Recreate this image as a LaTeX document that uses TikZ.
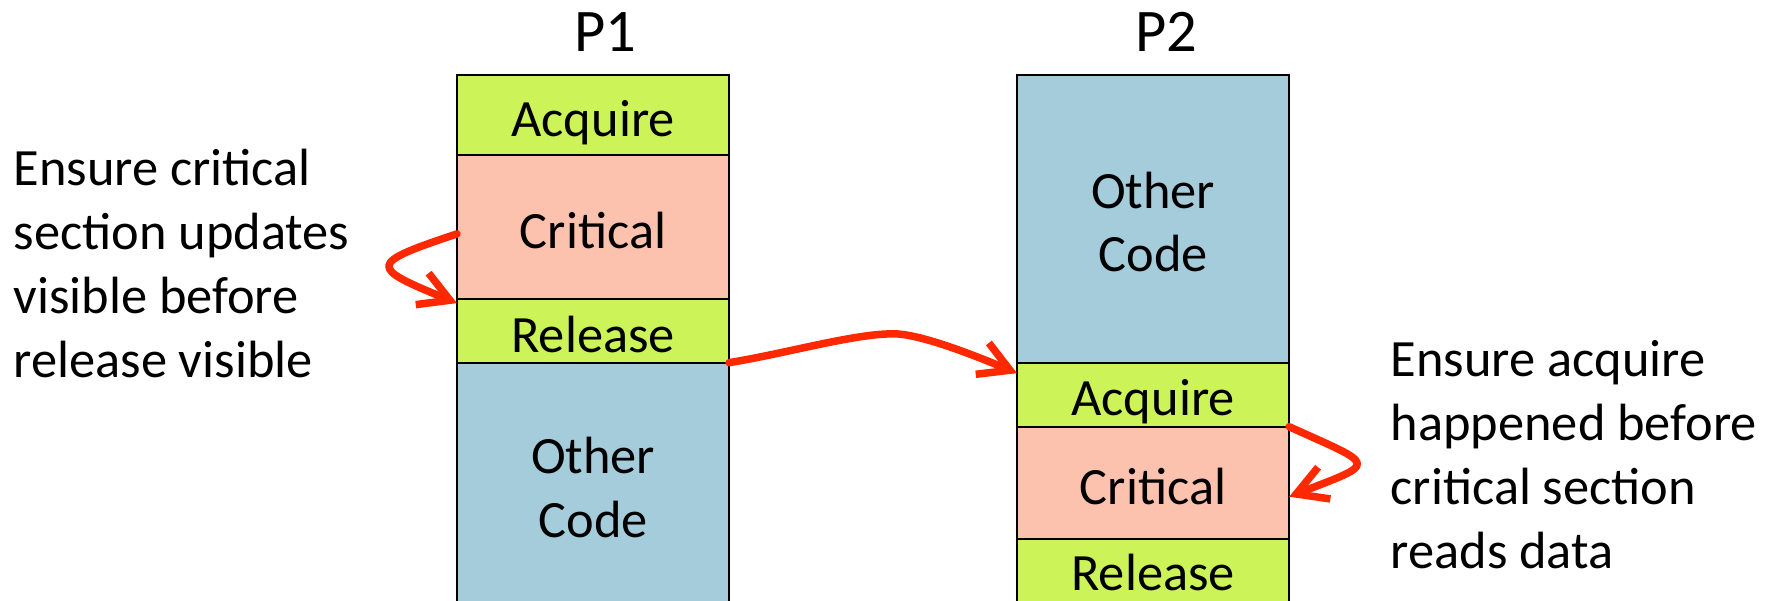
\documentclass[tikz,border=0pt]{standalone}
\usepackage{fontspec}
\setmainfont{Carlito}
\usetikzlibrary{positioning, arrows.meta, calc}
\definecolor{acqgreen}{RGB}{204,243,88}
\definecolor{critpink}{RGB}{253,194,174}
\definecolor{codeblue}{RGB}{164,204,219}
\definecolor{syncred}{RGB}{255,40,0}
\tikzset{
    node distance=0pt,
    seg/.style={draw=black, line width=0.02cm, minimum width=2.72cm, inner sep=0pt, outer sep=0pt, align=center, font=\fontsize{14.9}{18.1}\selectfont},
    oneline/.style={text height=12.1pt, text depth=0pt},
    acqbox/.style={seg, oneline, fill=acqgreen},
    critbox/.style={seg, oneline, fill=critpink},
    codebox/.style={seg, fill=codeblue},
    proc/.style={font=\fontsize{17.2}{20}\selectfont, inner sep=0pt},
    note/.style={align=left, inner sep=0pt, font=\fontsize{14.9}{18.2}\selectfont},
    sync/.style={draw=syncred, line width=0.075cm, line cap=round, line join=round, -{Straight Barb[length=0.3cm, width=0.34cm]}},
}

\begin{document}
\begin{tikzpicture}[x=0.01cm, y=-0.01cm]
    \clip (0,0) rectangle (1782,601);

    \node[proc, anchor=base] (p1) at (605,51.7) {P1};
    \node[proc, anchor=base] (p2) at (1166,51.7) {P2};

    % first process
    \node[acqbox, minimum height=0.796cm, anchor=north west] (p1acq) at (457,75) {Acquire};
    \node[critbox, minimum height=1.444cm, below=of p1acq] (p1crit) {Critical};
    \node[acqbox, minimum height=0.635cm, below=of p1crit] (p1rel) {Release};
    \node[codebox, minimum height=2.495cm, below=of p1rel] (p1code) {Other\\Code};

    % second process
    \node[codebox, minimum height=2.875cm, text height=30.2pt, text depth=0pt, anchor=north west] (p2code) at (1017,75) {Other\\Code};
    \node[acqbox, minimum height=0.64cm, below=of p2code] (p2acq) {Acquire};
    \node[critbox, minimum height=1.12cm, below=of p2acq] (p2crit) {Critical};
    \node[acqbox, minimum height=0.735cm, text height=8.4pt, below=of p2crit] (p2rel) {Release};

    % base is the last line of a multi-line node
    \node[note, anchor=base west] (p1note) at (13,377.5) {Ensure critical\\section updates\\visible before\\release visible};
    \node[note, anchor=base west] (p2note) at (1390,568.4) {Ensure acquire\\happened before\\critical section\\reads data};

    \coordinate (bend) at (898,334);

    \draw[sync] ($(p1crit.west)+(0,7)$) .. controls +(-90,30) and +(-88,-36) .. ($(p1rel.north west)+(0,4)$);
    \draw[sync] (p1rel.south east) .. controls +(61,-10) and +(-38,-2) .. (bend)
        .. controls +(27,2) and +(-43,-18) .. ($(p2acq.north west)+(0,10.5)$);
    \draw[sync] (p2crit.north east) .. controls +(88,40) and +(90,-35) .. ($(p2crit.east)+(0,14)$);
\end{tikzpicture}
\end{document}
